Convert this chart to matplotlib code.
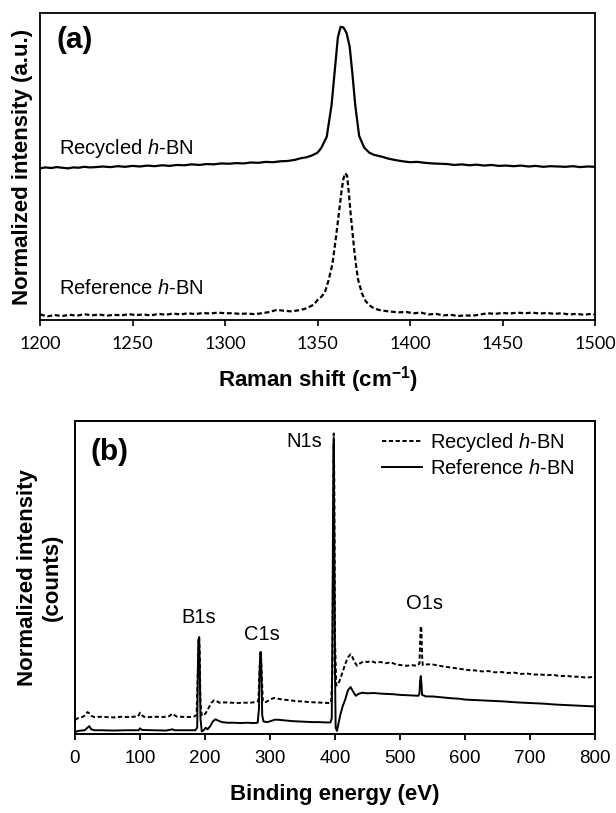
import matplotlib
matplotlib.use("Agg")
import matplotlib.pyplot as plt

plt.rcParams['font.family'] = 'Liberation Sans'
plt.rcParams['mathtext.fontset'] = 'custom'
plt.rcParams['mathtext.rm'] = 'Liberation Sans'
plt.rcParams['mathtext.it'] = 'Liberation Sans:italic'
plt.rcParams['mathtext.bf'] = 'Liberation Sans:bold'

# (a) Raman spectra, normalized and stacked
rec_a_x = [1200, 1203, 1206, 1209, 1212, 1215, 1218, 1221, 1224, 1227, 1230,
           1234, 1238, 1242, 1246, 1250, 1254, 1258, 1262, 1266, 1270, 1274, 1278, 1282, 1286,
           1290, 1294, 1298, 1302, 1306, 1310, 1314, 1318, 1322, 1326, 1330, 1334, 1338,
           1341, 1344, 1347, 1350, 1352, 1355,
           1357.6, 1359.3, 1361, 1362.5, 1364, 1365.7, 1367.4, 1368.9, 1370.4, 1372.5, 1375.2,
           1378, 1380.5, 1384.8,
           1388, 1392, 1396, 1400, 1404, 1408, 1412, 1416, 1420, 1424, 1428, 1432, 1436, 1440,
           1444, 1448, 1452, 1456, 1460, 1464, 1468, 1472, 1476, 1480, 1484, 1488, 1492, 1496, 1500]
rec_a_y = [0.494, 0.497, 0.495, 0.498, 0.496, 0.494, 0.497, 0.496, 0.499, 0.497, 0.498,
           0.500, 0.498, 0.501, 0.499, 0.502, 0.500, 0.503, 0.501, 0.504, 0.502, 0.505, 0.504, 0.507, 0.505,
           0.508, 0.507, 0.510, 0.509, 0.511, 0.510, 0.513, 0.512, 0.515, 0.514, 0.517, 0.518, 0.522,
           0.527, 0.530, 0.536, 0.545, 0.560, 0.597,
           0.70, 0.81, 0.92, 0.955, 0.953, 0.935, 0.89, 0.80, 0.70, 0.60, 0.562,
           0.545, 0.538, 0.532,
           0.526, 0.521, 0.517, 0.514, 0.515, 0.512, 0.510, 0.509, 0.508, 0.505, 0.507, 0.504, 0.506, 0.503,
           0.505, 0.502, 0.503, 0.501, 0.503, 0.500, 0.502, 0.499, 0.501, 0.500, 0.499, 0.501, 0.498, 0.500, 0.499]

ref_a_x = [1200, 1204, 1208, 1212, 1216, 1220, 1224, 1228, 1232, 1236,
           1240, 1244, 1248, 1252, 1256, 1260, 1264, 1268, 1272, 1276,
           1280, 1284, 1288, 1292, 1296, 1300, 1304, 1308, 1312, 1316,
           1320, 1324, 1328, 1332, 1336, 1340, 1343,
           1346, 1348, 1350, 1352, 1354, 1356, 1358, 1360, 1362, 1363, 1364, 1365,
           1366, 1367, 1368, 1369, 1370, 1371, 1372, 1374, 1376, 1378, 1380, 1383,
           1386, 1390, 1394, 1398, 1402, 1406, 1410, 1414, 1418, 1422,
           1426, 1430, 1434, 1438, 1442, 1446, 1450, 1454, 1458, 1462,
           1466, 1470, 1474, 1478, 1482, 1486, 1490, 1494, 1498, 1500]
ref_a_y = [0.018, 0.012, 0.016, 0.013, 0.017, 0.014, 0.019, 0.015, 0.018, 0.014,
           0.017, 0.015, 0.019, 0.016, 0.018, 0.015, 0.020, 0.017, 0.021, 0.018,
           0.022, 0.019, 0.023, 0.021, 0.024, 0.022, 0.022, 0.020, 0.021, 0.019,
           0.022, 0.026, 0.033, 0.030, 0.028, 0.032, 0.036,
           0.044, 0.050, 0.065, 0.075, 0.090, 0.130, 0.180, 0.270, 0.370, 0.420, 0.460, 0.478,
           0.470, 0.410, 0.340, 0.280, 0.220, 0.170, 0.130, 0.087, 0.062, 0.048, 0.040, 0.033,
           0.030, 0.027, 0.025, 0.026, 0.022, 0.024, 0.018, 0.020, 0.015, 0.017,
           0.013, 0.015, 0.014, 0.018, 0.022, 0.020, 0.023, 0.021, 0.024, 0.022,
           0.024, 0.021, 0.023, 0.020, 0.022, 0.018, 0.020, 0.017, 0.020, 0.018]

# (b) XPS survey spectra
rec_b_x = [0, 4, 8, 12, 16, 19, 22, 25, 30, 40, 50, 60, 70, 80, 90, 97, 100, 103, 106,
           115, 125, 135, 145, 150, 153, 157, 165, 175, 183, 187, 189, 190, 191, 192, 193,
           195, 198, 202, 206, 210, 214, 218, 222, 230, 240, 250, 260, 270, 278, 282,
           284, 285, 286, 287, 289, 292, 296, 300, 306, 312, 320, 330, 340, 350, 360,
           370, 380, 390, 394, 396, 397, 398, 399, 400, 402, 405, 408, 412, 416, 420,
           424, 427, 430, 434, 438, 444, 450, 456, 462, 470, 478, 486, 494, 502, 510,
           518, 526, 530, 531, 532, 533, 534, 535, 540, 548, 556, 566, 576, 586, 596,
           606, 616, 626, 636, 646, 656, 666, 676, 686, 696, 706, 716, 726, 736, 746,
           756, 766, 776, 786, 796, 800]
rec_b_y = [0.045, 0.050, 0.053, 0.055, 0.060, 0.070, 0.066, 0.058, 0.054, 0.055, 0.054, 0.053, 0.055, 0.054, 0.055, 0.056, 0.068, 0.060, 0.055,
           0.054, 0.055, 0.054, 0.057, 0.065, 0.060, 0.055, 0.055, 0.054, 0.056, 0.060, 0.200, 0.305, 0.310, 0.250, 0.100,
           0.060, 0.058, 0.070, 0.085, 0.100, 0.108, 0.105, 0.100, 0.101, 0.100, 0.099, 0.100, 0.100, 0.102, 0.105,
           0.200, 0.260, 0.260, 0.200, 0.105, 0.100, 0.105, 0.110, 0.115, 0.113, 0.110, 0.108, 0.105, 0.104, 0.102,
           0.101, 0.100, 0.099, 0.100, 0.200, 0.600, 0.960, 0.800, 0.300, 0.155, 0.160, 0.175, 0.200, 0.225, 0.245,
           0.255, 0.245, 0.230, 0.218, 0.225, 0.232, 0.230, 0.233, 0.228, 0.230, 0.226, 0.229, 0.222, 0.220, 0.218,
           0.220, 0.218, 0.225, 0.300, 0.345, 0.330, 0.250, 0.220, 0.222, 0.223, 0.220, 0.216, 0.213, 0.210, 0.207,
           0.204, 0.203, 0.200, 0.201, 0.197, 0.198, 0.195, 0.196, 0.192, 0.193, 0.190, 0.190, 0.188, 0.189, 0.185,
           0.186, 0.183, 0.183, 0.180, 0.182, 0.180]

ref_b_x = [0, 5, 10, 15, 19, 22, 25, 30, 40, 60, 80, 98, 100, 103, 120, 140, 150, 153, 170, 185,
           188, 189, 190, 191, 192, 193, 195, 198, 201, 204, 208, 212, 216, 220, 226, 235, 245, 255, 265, 275,
           281, 283, 284, 285, 286, 287, 288, 290, 296, 302, 308, 315, 325, 335, 345, 355, 365, 375, 385, 393,
           395, 396, 397, 398, 399, 400, 401, 403, 405, 408, 412, 416, 420, 424, 428, 432, 436, 442, 450, 460,
           470, 480, 490, 500, 510, 520, 528, 530, 531, 532, 533, 534, 540, 550, 560, 570, 580, 590, 600, 620,
           640, 660, 680, 700, 720, 740, 760, 780, 800]
ref_b_y = [0.006, 0.010, 0.011, 0.012, 0.020, 0.025, 0.015, 0.012, 0.012, 0.011, 0.012, 0.012, 0.018, 0.013, 0.012, 0.011, 0.015, 0.012, 0.012, 0.012,
           0.020, 0.200, 0.300, 0.308, 0.200, 0.050, 0.008, 0.012, 0.020, 0.015, 0.025, 0.040, 0.047, 0.043, 0.038, 0.036, 0.036, 0.035, 0.036, 0.035,
           0.036, 0.080, 0.200, 0.260, 0.262, 0.180, 0.060, 0.040, 0.038, 0.042, 0.046, 0.045, 0.043, 0.041, 0.040, 0.039, 0.038, 0.038, 0.037, 0.037,
           0.050, 0.300, 0.700, 0.930, 0.600, 0.200, 0.020, 0.010, 0.030, 0.060, 0.090, 0.112, 0.140, 0.150, 0.135, 0.122, 0.128, 0.132, 0.130, 0.131,
           0.129, 0.128, 0.127, 0.125, 0.124, 0.123, 0.122, 0.130, 0.170, 0.185, 0.160, 0.125, 0.120, 0.120, 0.118, 0.116, 0.114, 0.113, 0.110, 0.108,
           0.106, 0.104, 0.101, 0.099, 0.097, 0.094, 0.092, 0.090, 0.088]

peak_names = ['B1s', 'C1s', 'N1s', 'O1s']
peak_label_x = [191, 287, 352, 537]
peak_label_y = [0.373, 0.318, 0.933, 0.417]

fig = plt.figure(figsize=(6.16, 8.13), dpi=100)
ax1 = fig.add_axes([40/616, 1-320/813, 555/616, 307/813])
ax2 = fig.add_axes([75/616, 1-734/813, 520/616, 313/813])

# ---- panel (a)
ax1.plot(rec_a_x, rec_a_y, color='black', lw=1.6)
ax1.plot(ref_a_x, ref_a_y, color='black', lw=1.6, dashes=(2.2, 1.2))
ax1.set_xlim(1200, 1500)
ax1.set_ylim(0, 1)
ticks_a = list(range(1200, 1501, 50))
ax1.set_xticks(ticks_a, [str(t) for t in ticks_a], fontfamily='Lato', fontsize=13)
ax1.set_yticks([])
ax1.tick_params(axis='x', direction='out', length=4.3, width=1.2, pad=7)
for s in ax1.spines.values():
    s.set_linewidth(1.3)
ax1.text(0.034, 0.56, r'Recycled $\mathit{h}$-BN', transform=ax1.transAxes,
         fontsize=14.5, va='center')
ax1.text(0.034, 0.104, r'Reference $\mathit{h}$-BN', transform=ax1.transAxes,
         fontsize=14.5, va='center')
ax1.text(0.029, 0.912, '(a)', transform=ax1.transAxes, fontsize=21.5,
         fontweight='bold', va='center')
ax1.set_xlabel(r'Raman shift (cm$^{\mathbf{-1}}$)', fontsize=16, fontweight='bold')
ax1.xaxis.set_label_coords(0.5, -0.145)
ax1.set_ylabel('Normalized intensity (a.u.)', fontsize=16, fontweight='bold')
ax1.yaxis.set_label_coords(-0.012, 0.5)

# ---- panel (b)
ax2.plot(rec_b_x, rec_b_y, color='black', lw=1.4, dashes=(2.2, 1.3),
         label=r'Recycled $\mathit{h}$-BN')
ax2.plot(ref_b_x, ref_b_y, color='black', lw=1.4, label=r'Reference $\mathit{h}$-BN')
ax2.set_xlim(0, 800)
ax2.set_ylim(0, 1)
ax2.set_xticks(range(0, 801, 100))
ax2.set_yticks([])
ax2.tick_params(axis='x', direction='out', length=4.3, width=1.3, pad=7, labelsize=13.5)
for s in ax2.spines.values():
    s.set_linewidth(1.4)
for name, px, py in zip(peak_names, peak_label_x, peak_label_y):
    ax2.text(px, py, name, ha='center', va='center', fontsize=14.5)
ax2.text(0.029, 0.90, '(b)', transform=ax2.transAxes, fontsize=21.5,
         fontweight='bold', va='center')
ax2.legend(loc='upper left', bbox_to_anchor=((382-75)/520, 0.968), frameon=False,
           fontsize=14.5, handlelength=2.0, handletextpad=0.4, labelspacing=0.25,
           borderpad=0, borderaxespad=0)
ax2.set_xlabel('Binding energy (eV)', fontsize=16, fontweight='bold')
ax2.xaxis.set_label_coords(0.5, -0.16)
ax2.set_ylabel('Normalized intensity\n(counts)', fontsize=16, fontweight='bold',
               linespacing=1.25)
ax2.yaxis.set_label_coords(-0.023, 0.5)

fig.savefig('out.png', dpi=100)
